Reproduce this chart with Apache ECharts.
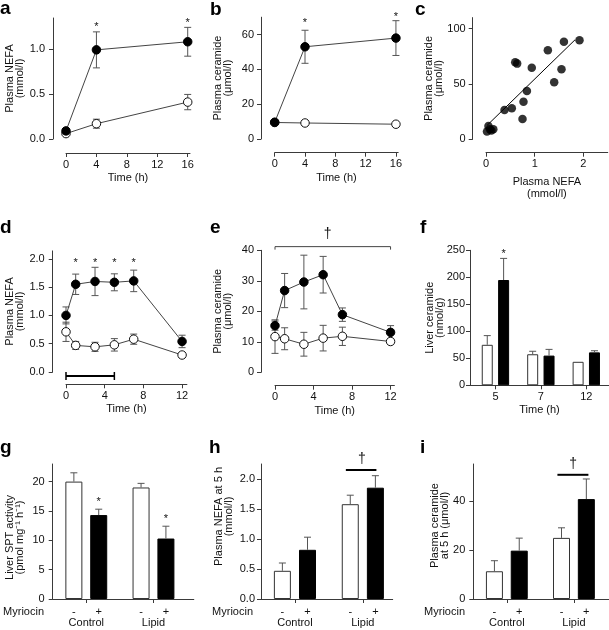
<!DOCTYPE html>
<html>
<head>
<meta charset="utf-8">
<script src="https://cdn.jsdelivr.net/npm/echarts@6/dist/echarts.min.js"></script>
<style>
  html, body { margin: 0; background: #fff; }
  #chart { width: 609px; height: 630px; }
</style>
</head>
<body>
<div id="chart"></div>
<script>
// a: plasma NEFA over 16 h (filled = lipid, open = control)
const timeA = [0, 4, 16]
const nefaLipidA = [0.09, 0.99, 1.08]
const nefaLipidErrA = [0.02, 0.2, 0.16]
const nefaCtrlA = [0.06, 0.17, 0.41]
const nefaCtrlErrA = [0.01, 0.05, 0.085]
const starsA = [[4, 1.245], [16, 1.29]]

// b: plasma ceramide over 16 h
const timeB = [0, 4, 16]
const cerLipidB = [9.6, 53, 58]
const cerLipidErrB = [1, 9.5, 10]
const cerCtrlB = [9.5, 9.2, 8.5]
const cerCtrlErrB = [0.8, 0.8, 0.6]
const starsB = [[4, 66.7], [16, 70.1]]

// c: ceramide vs NEFA
const cNefa = [0.02, 0.05, 0.08, 0.11, 0.15, 0.38, 0.53, 0.6, 0.64, 0.75, 0.77, 0.84, 0.94, 1.27, 1.4, 1.55, 1.6, 1.92]
const cCeramide = [7, 12, 9, 8, 9, 26.5, 28, 69.6, 68.4, 18.4, 34, 43.7, 64.7, 80.5, 51.5, 63.3, 88.2, 89.5]
const cFitX = [0.02, 1.83]
const cFitY = [12.5, 90]

// d: plasma NEFA over 12 h
const timeD = [0, 1, 3, 5, 7, 12]
const nefaLipidD = [1.0, 1.55, 1.6, 1.585, 1.61, 0.54]
const nefaLipidErrD = [0.15, 0.18, 0.25, 0.15, 0.19, 0.11]
const nefaCtrlD = [0.71, 0.47, 0.445, 0.48, 0.58, 0.3]
const nefaCtrlErrD = [0.17, 0.07, 0.08, 0.11, 0.09, 0.02]
const starsD = [[1, 1.93], [3, 1.93], [5, 1.93], [7, 1.93]]
const infusionD = [0, 5]

// e: plasma ceramide over 12 h
const timeE = [0, 1, 3, 5, 7, 12]
const cerLipidE = [15.3, 26.8, 29.6, 32, 18.9, 13.1]
const cerLipidErrE = [1.5, 5.6, 8.8, 6, 2.2, 2.2]
const cerCtrlE = [11.7, 11.0, 9.2, 11.2, 11.8, 10.1]
const cerCtrlErrE = [5.5, 3.6, 3.9, 4.2, 3, 1]
const bracketE = [[0, 41.2, 12]]
const daggerE = [[5.48, 45.3]]

// f: liver ceramide
const timesF = ['5', '7', '12']
const liverCtrlF = [75, 57.5, 43.5]
const liverCtrlErrF = [17, 5.5, 0]
const liverLipidF = [195, 55, 61]
const liverLipidErrF = [40, 11.5, 3]
const starsF = [[1.18, 243]]

// g, h, i: myriocin
const groups = ['Control', 'Lipid']
const sptNoMyrG = [20, 19]
const sptNoMyrErrG = [1.5, 0.7]
const sptMyrG = [14.3, 10.3]
const sptMyrErrG = [1.0, 2.1]
const starsG = [[1.185, 16.5], [2.185, 13.6]]

const nefaNoMyrH = [0.47, 1.58]
const nefaNoMyrErrH = [0.13, 0.15]
const nefaMyrH = [0.82, 1.855]
const nefaMyrErrH = [0.21, 0.2]
const bracketH = [[1.75, 2.15, 2.2]]
const daggerH = [[1.985, 2.333]]

const cerNoMyrI = [11.3, 24.9]
const cerNoMyrErrI = [4.3, 4.1]
const cerMyrI = [19.7, 40.7]
const cerMyrErrI = [5.1, 8.2]
const bracketI = [[1.754, 50.6, 2.216]]
const daggerI = [[1.99, 55.1]]

const FONT = '"Liberation Sans", Arial, Helvetica, sans-serif'
const TEXT = '#111'
const AXIS = '#3a3a3a'
const LINE = '#444'
const ERR = '#555'
const GROUP_SHIFT = 0.185
const F_SHIFT = 0.18

const fmt1 = v => v.toFixed(1)
const pairs = (xs, ys) => xs.map((x, i) => [x, ys[i]])
const triples = (xs, ys, es) => xs.map((x, i) => [x, ys[i], es[i]])

function grid(left, top, width, height) {
  return { left, top, width, height, containLabel: false, outerBoundsMode: 'none' }
}

function xAxis(g, min, max, ticks, o = {}) {
  return {
    gridIndex: g,
    type: 'value',
    min,
    max,
    position: 'bottom',
    offset: o.offset || 0,
    name: o.name || '',
    nameLocation: 'middle',
    nameGap: o.nameGap || 19,
    nameMoveOverlap: false,
    nameTextStyle: { fontFamily: FONT, color: TEXT, fontSize: 11, lineHeight: 12 },
    axisLine: { show: o.line !== false, onZero: false, lineStyle: { color: AXIS, width: 1 } },
    axisTick: { show: o.tick !== false, length: 4, customValues: o.tickValues || ticks, lineStyle: { color: AXIS } },
    axisLabel: {
      customValues: ticks,
      margin: o.margin || 6,
      fontFamily: FONT,
      color: TEXT,
      fontSize: 11,
      formatter: o.fmt
    },
    splitLine: { show: false }
  }
}

function yAxis(g, max, ticks, name, o = {}) {
  return {
    gridIndex: g,
    type: 'value',
    min: 0,
    max,
    offset: o.offset || 0,
    name,
    nameLocation: 'middle',
    nameGap: o.nameGap,
    nameMoveOverlap: false,
    nameTextStyle: { fontFamily: FONT, color: TEXT, fontSize: 11, lineHeight: 10, padding: o.pad || 0 },
    axisLine: { show: true, onZero: false, lineStyle: { color: AXIS, width: 1 } },
    axisTick: { show: true, length: 4, customValues: ticks, lineStyle: { color: AXIS } },
    axisLabel: {
      customValues: ticks,
      margin: o.margin || 7,
      fontFamily: FONT,
      color: TEXT,
      fontSize: 11,
      formatter: o.fmt
    },
    splitLine: { show: false }
  }
}

// 误差线: 数据为 [x, y, err]
function errBars(ax, data, upOnly) {
  return {
    type: 'custom',
    xAxisIndex: ax,
    yAxisIndex: ax,
    z: upOnly ? 3 : 1,
    silent: true,
    data,
    renderItem(params, api) {
      const x = api.value(0)
      const y = api.value(1)
      const e = api.value(2)
      if (!e) return { type: 'group', children: [] }
      const hi = api.coord([x, y + e])
      const lo = api.coord([x, upOnly ? y : y - e])
      const c = 3.5
      const style = { stroke: ERR, lineWidth: 1 }
      const kids = [
        { type: 'line', shape: { x1: hi[0], y1: hi[1], x2: lo[0], y2: lo[1] }, style },
        { type: 'line', shape: { x1: hi[0] - c, y1: hi[1], x2: hi[0] + c, y2: hi[1] }, style }
      ]
      if (!upOnly) {
        kids.push({ type: 'line', shape: { x1: lo[0] - c, y1: lo[1], x2: lo[0] + c, y2: lo[1] }, style })
      }
      return { type: 'group', children: kids }
    }
  }
}

function dots(ax, data, filled) {
  return {
    type: 'line',
    xAxisIndex: ax,
    yAxisIndex: ax,
    data,
    z: 3,
    symbol: 'circle',
    symbolSize: 8.5,
    showSymbol: true,
    lineStyle: { color: LINE, width: 1 },
    itemStyle: filled
      ? { color: '#000', borderColor: '#000', borderWidth: 1 }
      : { color: '#fff', borderColor: '#111', borderWidth: 1 },
    emphasis: { disabled: true }
  }
}

function bars(ax, data, filled, width) {
  return {
    type: 'bar',
    xAxisIndex: ax,
    yAxisIndex: ax,
    data,
    barWidth: width,
    barGap: '-100%',
    z: 2,
    itemStyle: filled
      ? { color: '#000', borderColor: '#000', borderWidth: 1 }
      : { color: '#fff', borderColor: '#333', borderWidth: 1 },
    emphasis: { disabled: true }
  }
}

function textMarks(ax, data, text, size) {
  return {
    type: 'custom',
    xAxisIndex: ax,
    yAxisIndex: ax,
    z: 4,
    silent: true,
    clip: false,
    data,
    renderItem(params, api) {
      const p = api.coord([api.value(0), api.value(1)])
      return {
        type: 'text',
        x: p[0],
        y: p[1],
        style: { text, fill: TEXT, fontSize: size, fontFamily: FONT, align: 'center', verticalAlign: 'middle' }
      }
    }
  }
}

// 横向括号: 数据为 [x1, y, x2]
function bracket(ax, data, thick) {
  return {
    type: 'custom',
    xAxisIndex: ax,
    yAxisIndex: ax,
    z: 4,
    silent: true,
    clip: false,
    data,
    renderItem(params, api) {
      const a = api.coord([api.value(0), api.value(1)])
      const b = api.coord([api.value(2), api.value(1)])
      const style = { stroke: thick ? '#000' : '#444', lineWidth: thick ? 2 : 1 }
      const kids = [{ type: 'line', shape: { x1: a[0], y1: a[1], x2: b[0], y2: b[1] }, style }]
      if (!thick) {
        kids.push({ type: 'line', shape: { x1: a[0], y1: a[1], x2: a[0], y2: a[1] + 3 }, style })
        kids.push({ type: 'line', shape: { x1: b[0], y1: b[1], x2: b[0], y2: b[1] + 3 }, style })
      }
      return { type: 'group', children: kids }
    }
  }
}

function infusionBar(ax, span) {
  return {
    type: 'custom',
    xAxisIndex: ax,
    yAxisIndex: ax,
    z: 4,
    silent: true,
    clip: false,
    data: [[span[0], 0, span[1]]],
    renderItem(params, api) {
      const a = api.coord([api.value(0), 0])
      const b = api.coord([api.value(2), 0])
      const y = a[1] + 4
      const style = { stroke: '#000', lineWidth: 2 }
      return {
        type: 'group',
        children: [
          { type: 'line', shape: { x1: a[0], y1: y, x2: b[0], y2: y }, style },
          { type: 'line', shape: { x1: a[0], y1: y - 4, x2: a[0], y2: y + 4 }, style: { stroke: '#000', lineWidth: 1.5 } },
          { type: 'line', shape: { x1: b[0], y1: y - 4, x2: b[0], y2: y + 4 }, style: { stroke: '#000', lineWidth: 1.5 } }
        ]
      }
    }
  }
}

function letter(text, left, top) {
  return { type: 'text', left, top, style: { text, fontSize: 19, fontWeight: 'bold', fontFamily: FONT, fill: '#000' } }
}

function myriocin(x) {
  return { type: 'text', x, y: 611.5, style: { text: 'Myriocin', fontSize: 11, fontFamily: FONT, fill: TEXT, align: 'right', verticalAlign: 'middle' } }
}

const groupPos = groups.map((_, i) => i + 1)
const noMyrPos = groupPos.map(p => p - GROUP_SHIFT)
const myrPos = groupPos.map(p => p + GROUP_SHIFT)
const signTicks = noMyrPos.concat(myrPos)
const signFmt = v => (v % 1 > 0.5 ? '-' : '+')
const groupFmt = v => groups[Math.round(v) - 1]

const fPos = timesF.map((_, i) => i + 1)
const fCtrlPos = fPos.map(p => p - F_SHIFT)
const fLipidPos = fPos.map(p => p + F_SHIFT)

const chart = echarts.init(document.getElementById('chart'))

chart.setOption({
  animation: false,
  backgroundColor: '#fff',
  textStyle: { fontFamily: FONT },
  grid: [
    grid(66, 18, 124, 121),
    grid(274.7, 17.2, 123.5, 121.8),
    grid(486, 17.6, 121.75, 121.7),
    grid(66, 250.9, 120.9, 121.1),
    grid(275, 250.3, 119.4, 122),
    grid(470, 250.3, 139, 135),
    grid(52.7, 464, 141.1, 135),
    grid(261, 464, 131.7, 135),
    grid(473.3, 464, 135.5, 135)
  ],
  xAxis: [
    xAxis(0, 0, 16.3, [0, 4, 8, 12, 16], { offset: 14, name: 'Time (h)' }),
    xAxis(1, 0, 16.3, [0, 4, 8, 12, 16], { offset: 13.7, name: 'Time (h)' }),
    xAxis(2, 0, 2.5, [0, 1, 2], { offset: 13.4, name: 'Plasma NEFA\n(mmol/l)', nameGap: 23 }),
    xAxis(3, 0, 12.5, [0, 4, 8, 12], { offset: 12.3, name: 'Time (h)' }),
    xAxis(4, 0, 12.4, [0, 4, 8, 12], { offset: 13.4, name: 'Time (h)' }),
    xAxis(5, 0.44, 3.5, fPos, { name: 'Time (h)', fmt: v => timesF[Math.round(v) - 1] }),
    xAxis(6, 0.5, 2.6, signTicks, { tickValues: groupPos, fmt: signFmt, margin: 7 }),
    xAxis(7, 0.5, 2.44, signTicks, { tickValues: groupPos, fmt: signFmt, margin: 7 }),
    xAxis(8, 0.5, 2.52, signTicks, { tickValues: groupPos, fmt: signFmt, margin: 7 }),
    xAxis(6, 0.5, 2.6, groupPos, { line: false, tick: false, fmt: groupFmt, margin: 18.5 }),
    xAxis(7, 0.5, 2.44, groupPos, { line: false, tick: false, fmt: groupFmt, margin: 18.5 }),
    xAxis(8, 0.5, 2.52, groupPos, { line: false, tick: false, fmt: groupFmt, margin: 18.5 })
  ],
  yAxis: [
    yAxis(0, 1.344, [0, 0.5, 1], 'Plasma NEFA\n(mmol/l)', { offset: 13, nameGap: 28, fmt: fmt1, margin: 8 }),
    yAxis(1, 70, [0, 20, 40, 60], 'Plasma ceramide\n(μmol/l)', { offset: 13.7, nameGap: 28 }),
    yAxis(2, 110, [0, 50, 100], 'Plasma ceramide\n(μmol/l)', { offset: 13.3, nameGap: 29 }),
    yAxis(3, 2.14, [0, 0.5, 1, 1.5, 2], 'Plasma NEFA\n(mmol/l)', { offset: 13.3, nameGap: 28, fmt: fmt1, margin: 8 }),
    yAxis(4, 40, [0, 10, 20, 30, 40], 'Plasma ceramide\n(μmol/l)', { offset: 14, nameGap: 28 }),
    yAxis(5, 250, [0, 50, 100, 150, 200, 250], 'Liver ceramide\n(nmol/g)', { nameGap: 25.5, margin: 5 }),
    yAxis(6, 23, [0, 5, 10, 15, 20], 'Liver SPT activity\n(pmol mg⁻¹ h⁻¹)', { nameGap: 28, margin: 8, pad: [0, 12, 0, 0] }),
    yAxis(7, 2.25, [0, 0.5, 1, 1.5, 2], 'Plasma NEFA at 5 h\n(mmol/l)', { nameGap: 27, fmt: fmt1, margin: 6, pad: [0, 0, 0, 30] }),
    yAxis(8, 55, [0, 20, 40], 'Plasma ceramide\nat 5 h (μmol/l)', { nameGap: 23, margin: 8, pad: [0, 0, 0, 12] })
  ],
  graphic: [
    letter('a', 0, -1),
    letter('b', 210, 0),
    letter('c', 415, 0),
    letter('d', 0, 218),
    letter('e', 210, 218),
    letter('f', 420, 218),
    letter('g', 0, 438),
    letter('h', 209, 438),
    letter('i', 420, 438),
    myriocin(44),
    myriocin(253),
    myriocin(465)
  ],
  series: [
    // a
    errBars(0, triples(timeA, nefaCtrlA, nefaCtrlErrA)),
    errBars(0, triples(timeA, nefaLipidA, nefaLipidErrA)),
    dots(0, pairs(timeA, nefaCtrlA), false),
    dots(0, pairs(timeA, nefaLipidA), true),
    textMarks(0, starsA, '*', 11),
    // b
    errBars(1, triples(timeB, cerCtrlB, cerCtrlErrB)),
    errBars(1, triples(timeB, cerLipidB, cerLipidErrB)),
    dots(1, pairs(timeB, cerCtrlB), false),
    dots(1, pairs(timeB, cerLipidB), true),
    textMarks(1, starsB, '*', 11),
    // c
    {
      type: 'scatter',
      xAxisIndex: 2,
      yAxisIndex: 2,
      data: pairs(cNefa, cCeramide),
      symbolSize: 8.5,
      itemStyle: { color: '#000' },
      z: 3,
      emphasis: { disabled: true }
    },
    {
      type: 'line',
      xAxisIndex: 2,
      yAxisIndex: 2,
      data: pairs(cFitX, cFitY),
      symbol: 'none',
      lineStyle: { color: '#000', width: 1 },
      z: 2
    },
    // d
    errBars(3, triples(timeD, nefaCtrlD, nefaCtrlErrD)),
    errBars(3, triples(timeD, nefaLipidD, nefaLipidErrD)),
    dots(3, pairs(timeD, nefaCtrlD), false),
    dots(3, pairs(timeD, nefaLipidD), true),
    textMarks(3, starsD, '*', 11),
    infusionBar(3, infusionD),
    // e
    errBars(4, triples(timeE, cerCtrlE, cerCtrlErrE)),
    errBars(4, triples(timeE, cerLipidE, cerLipidErrE)),
    dots(4, pairs(timeE, cerCtrlE), false),
    dots(4, pairs(timeE, cerLipidE), true),
    bracket(4, bracketE, false),
    textMarks(4, daggerE, '†', 14),
    // f
    bars(5, pairs(fCtrlPos, liverCtrlF), false, 11),
    bars(5, pairs(fLipidPos, liverLipidF), true, 11),
    errBars(5, triples(fCtrlPos, liverCtrlF, liverCtrlErrF), true),
    errBars(5, triples(fLipidPos, liverLipidF, liverLipidErrF), true),
    textMarks(5, starsF, '*', 11),
    // g
    bars(6, pairs(noMyrPos, sptNoMyrG), false, 17),
    bars(6, pairs(myrPos, sptMyrG), true, 17),
    errBars(6, triples(noMyrPos, sptNoMyrG, sptNoMyrErrG), true),
    errBars(6, triples(myrPos, sptMyrG, sptMyrErrG), true),
    textMarks(6, starsG, '*', 11),
    // h
    bars(7, pairs(noMyrPos, nefaNoMyrH), false, 17),
    bars(7, pairs(myrPos, nefaMyrH), true, 17),
    errBars(7, triples(noMyrPos, nefaNoMyrH, nefaNoMyrErrH), true),
    errBars(7, triples(myrPos, nefaMyrH, nefaMyrErrH), true),
    bracket(7, bracketH, true),
    textMarks(7, daggerH, '†', 14),
    // i
    bars(8, pairs(noMyrPos, cerNoMyrI), false, 17),
    bars(8, pairs(myrPos, cerMyrI), true, 17),
    errBars(8, triples(noMyrPos, cerNoMyrI, cerNoMyrErrI), true),
    errBars(8, triples(myrPos, cerMyrI, cerMyrErrI), true),
    bracket(8, bracketI, true),
    textMarks(8, daggerI, '†', 14)
  ]
})
</script>
</body>
</html>
